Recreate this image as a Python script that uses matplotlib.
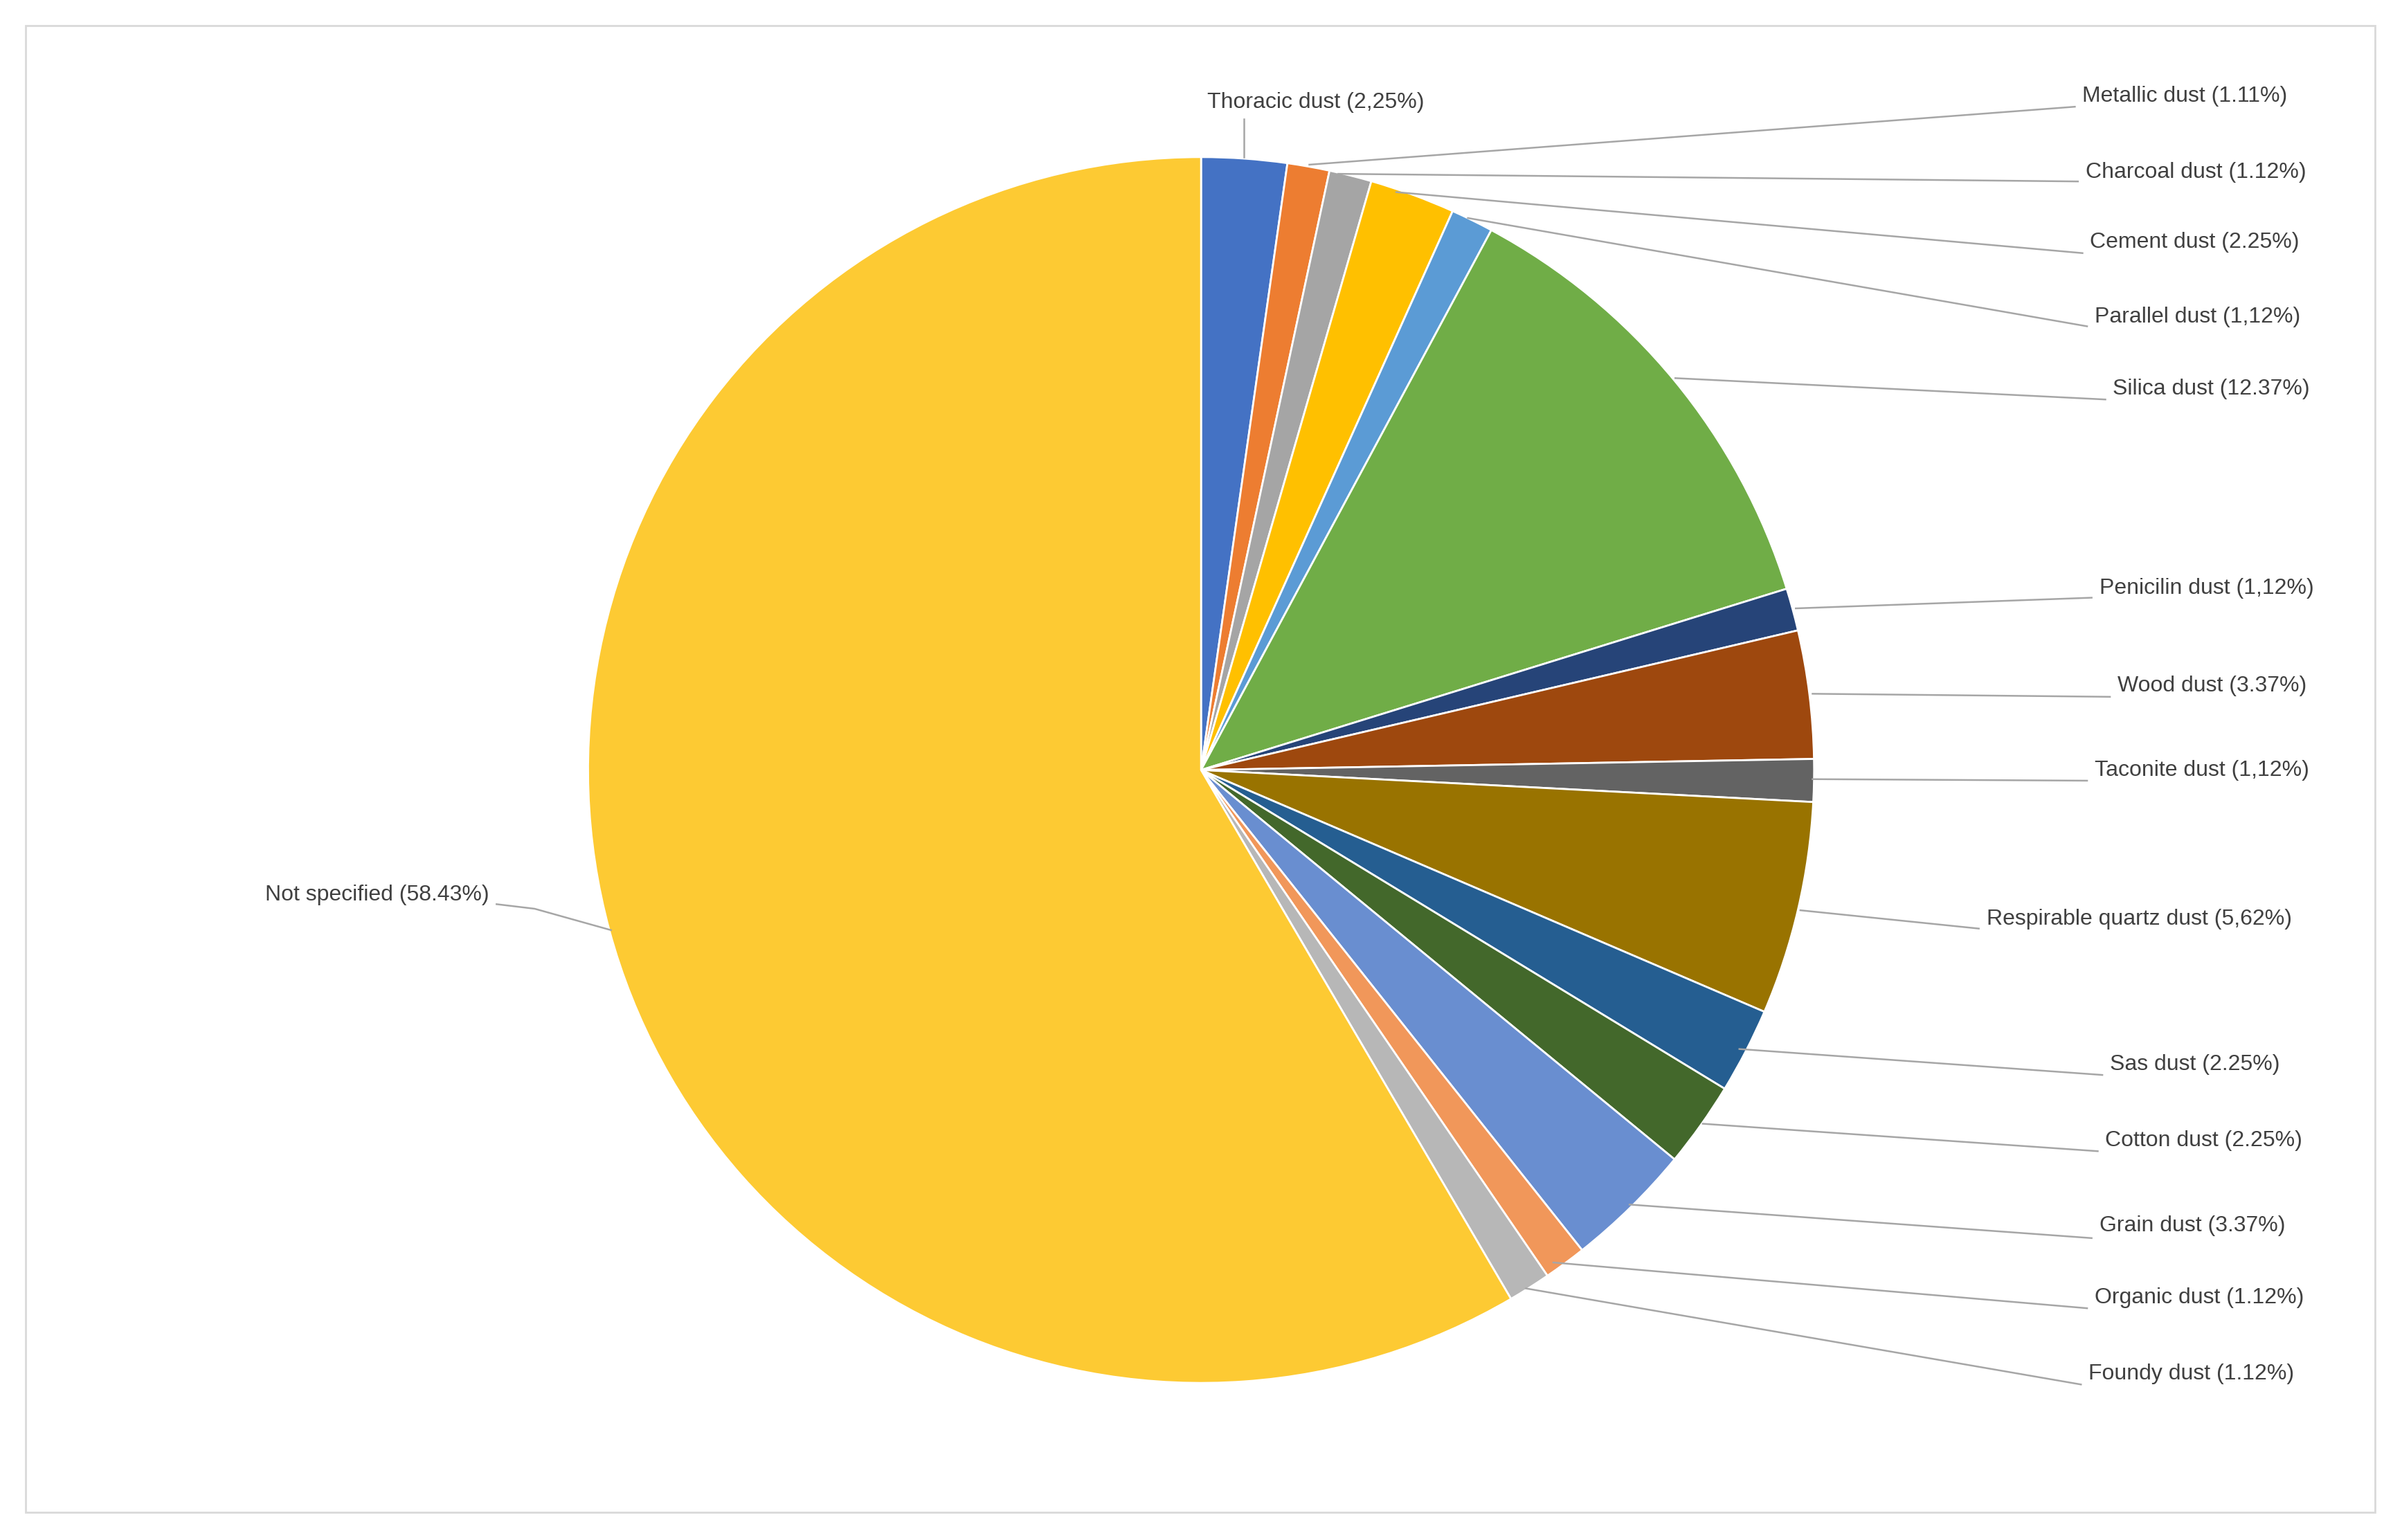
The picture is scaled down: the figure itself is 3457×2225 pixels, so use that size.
import matplotlib
matplotlib.use("Agg")
import matplotlib.pyplot as plt
from matplotlib.patches import Rectangle

labels = ["Thoracic dust (2,25%)", "Metallic dust (1.11%)", "Charcoal dust (1.12%)",
          "Cement dust (2.25%)", "Parallel dust (1,12%)", "Silica dust (12.37%)",
          "Penicilin dust (1,12%)", "Wood dust (3.37%)", "Taconite dust (1,12%)",
          "Respirable quartz dust (5,62%)", "Sas dust (2.25%)", "Cotton dust (2.25%)",
          "Grain dust (3.37%)", "Organic dust (1.12%)", "Foundy dust (1.12%)",
          "Not specified (58.43%)"]
values = [2.25, 1.11, 1.12, 2.25, 1.12, 12.37, 1.12, 3.37, 1.12, 5.62, 2.25, 2.25,
          3.37, 1.12, 1.12, 58.43]
colors = ["#4472C4", "#ED7D31", "#A5A5A5", "#FFC000", "#5B9BD5", "#70AD47", "#264478",
          "#9E480E", "#636363", "#997300", "#255E91", "#43682B", "#698ED0", "#F1975A",
          "#B7B7B7", "#FDCA33"]

# label layout (reference pixel space 1568x1010): text anchor x, y, ha, line points
layout = [
    (862, 67, "center", [(815, 78), (815, 103)]),
    (1365, 63, "left", [(1360, 70), (858, 108)]),
    (1367, 113, "left", [(1362, 119), (877, 114)]),
    (1370, 159, "left", [(1365, 166), (915, 126)]),
    (1373, 208, "left", [(1368, 214), (962, 143)]),
    (1385, 255, "left", [(1380, 262), (1098, 248)]),
    (1376, 386, "left", [(1371, 392), (1177, 399)]),
    (1388, 450, "left", [(1383, 457), (1188, 455)]),
    (1373, 505, "left", [(1368, 512), (1188, 511)]),
    (1302, 603, "left", [(1297, 609), (1180, 597)]),
    (1383, 698, "left", [(1378, 705), (1140, 688)]),
    (1380, 748, "left", [(1375, 755), (1116, 737)]),
    (1376, 804, "left", [(1371, 812), (1068, 790)]),
    (1373, 851, "left", [(1368, 858), (1018, 828)]),
    (1369, 901, "left", [(1364, 908), (1000, 845)]),
    (320, 587, "right", [(325, 593), (350, 596), (400, 610)]),
]

W, H = 1568, 1010
fig = plt.figure(figsize=(34.57, 22.25), dpi=100)
ax = fig.add_axes([0, 0, 1, 1])
ax.set_xlim(0, W)
ax.set_ylim(0, H)
ax.set_aspect("equal")
ax.axis("off")

ax.add_patch(Rectangle((16, H - 992), 1541, 975, fill=False, ec="#D9D9D9", lw=2))

ax.pie(values, colors=colors, startangle=90, counterclock=False,
       center=(787, H - 505), radius=402, frame=True,
       wedgeprops=dict(edgecolor="white", linewidth=2))
ax.set_xlim(0, W)
ax.set_ylim(0, H)
ax.axis("off")

for lab, (x, y, ha, pts) in zip(labels, layout):
    ax.text(x, H - y, lab, ha=ha, va="center", fontsize=23, color="#404040",
            family=["Liberation Sans", "DejaVu Sans"])
    xs = [p[0] for p in pts]
    ys = [H - p[1] for p in pts]
    ax.plot(xs, ys, color="#A6A6A6", lw=1.8, zorder=5)

fig.savefig("out.png", dpi=100)
